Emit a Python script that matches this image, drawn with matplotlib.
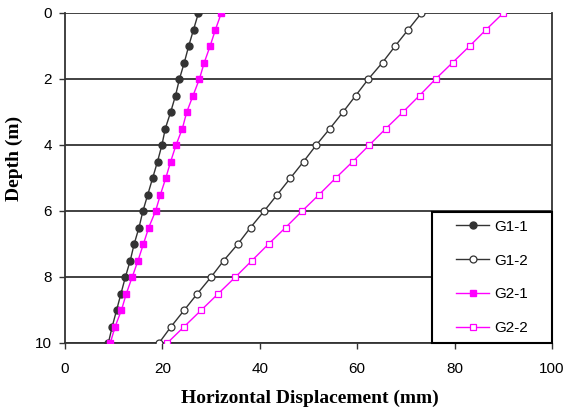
import matplotlib
matplotlib.use("Agg")
import matplotlib.pyplot as plt
from matplotlib.patches import Rectangle

depth = [0, 0.5, 1, 1.5, 2, 2.5, 3, 3.5, 4, 4.5, 5, 5.5, 6, 6.5, 7, 7.5, 8, 8.5, 9, 9.5, 10]
g1_1 = [27.4, 26.4, 25.4, 24.5, 23.5, 22.7, 21.7, 20.6, 19.9, 19.0, 18.0, 17.0,
        16.0, 15.2, 14.2, 13.4, 12.4, 11.5, 10.6, 9.7, 8.9]
g1_2 = [73.2, 70.5, 67.8, 65.2, 62.3, 59.7, 57.1, 54.4, 51.6, 49.0, 46.3, 43.6,
        40.9, 38.1, 35.5, 32.6, 30.0, 27.2, 24.5, 21.8, 19.3]
g2_1 = [32.1, 30.9, 29.8, 28.6, 27.6, 26.3, 25.0, 24.1, 22.8, 21.7, 20.7, 19.6,
        18.6, 17.2, 16.1, 15.0, 13.8, 12.6, 11.6, 10.3, 9.3]
g2_2 = [90.0, 86.5, 83.1, 79.6, 76.1, 72.8, 69.4, 65.9, 62.5, 59.1, 55.6, 52.2,
        48.7, 45.3, 41.8, 38.4, 35.0, 31.5, 28.0, 24.5, 21.0]
labels = ["G1-1", "G1-2", "G2-1", "G2-2"]
xticks = [0, 20, 40, 60, 80, 100]
yticks = [0, 2, 4, 6, 8, 10]

sans = ["Liberation Sans", "DejaVu Sans"]
serif = ["Liberation Serif", "DejaVu Serif"]

W, H = 566, 408
fig = plt.figure(figsize=(W/100, H/100), dpi=100)
ax = fig.add_axes([65/W, 1-343/H, 487/W, 330/H])

dark = "#333333"
mag = "#ff00ff"
ms = 5
ax.plot(g1_1, depth, color=dark, lw=1.0, marker="o", ms=ms, mfc=dark, mec=dark, label=labels[0], zorder=4)
ax.plot(g1_2, depth, color=dark, lw=1.0, marker="o", ms=ms, mfc="white", mec=dark, mew=0.9, label=labels[1], zorder=4)
ax.plot(g2_1, depth, color=mag, lw=1.0, marker="s", ms=ms, mfc=mag, mec=mag, label=labels[2], zorder=4)
ax.plot(g2_2, depth, color=mag, lw=1.0, marker="s", ms=ms, mfc="white", mec=mag, mew=0.9, label=labels[3], zorder=4)

ax.set_xlim(0, 100)
ax.set_ylim(10, 0)
ax.set_xticks(xticks)
ax.set_yticks(yticks)
for y in yticks:
    ax.axhline(y, color=dark, lw=1.3, zorder=1)
for s in ax.spines.values():
    s.set_color(dark)
    s.set_linewidth(1.3)
ax.spines["top"].set_visible(False)
ax.tick_params(axis="both", direction="out", length=4, width=1.0, color=dark, labelsize=11)
ax.tick_params(axis="x", pad=10)
ax.tick_params(axis="y", pad=5.3)
for lab in ax.get_xticklabels() + ax.get_yticklabels():
    lab.set_family(sans)

fig.text(310/W, 1-403/H, "Horizontal Displacement (mm)", family=serif, fontweight="bold",
         fontsize=14, ha="center", va="baseline")
fig.text(14/W, 1-158/H, "Depth (m)", family=serif, fontweight="bold", fontsize=14,
         ha="center", va="center", rotation=90)

lx0 = (431.7-65)/487
lh = (343-212)/330
rect = Rectangle((lx0, 0), 1-lx0, lh, transform=ax.transAxes, facecolor="white",
                 edgecolor="black", lw=1.5, zorder=3, clip_on=False)
ax.add_patch(rect)
leg = ax.legend(loc="center", bbox_to_anchor=(lx0, 0, 1-lx0, lh), frameon=False,
                prop={"family": sans, "size": 11}, handlelength=2.2, handletextpad=0.3,
                labelspacing=1.3, borderaxespad=0)
leg.set_zorder(6)

fig.savefig("out.png", dpi=100)
